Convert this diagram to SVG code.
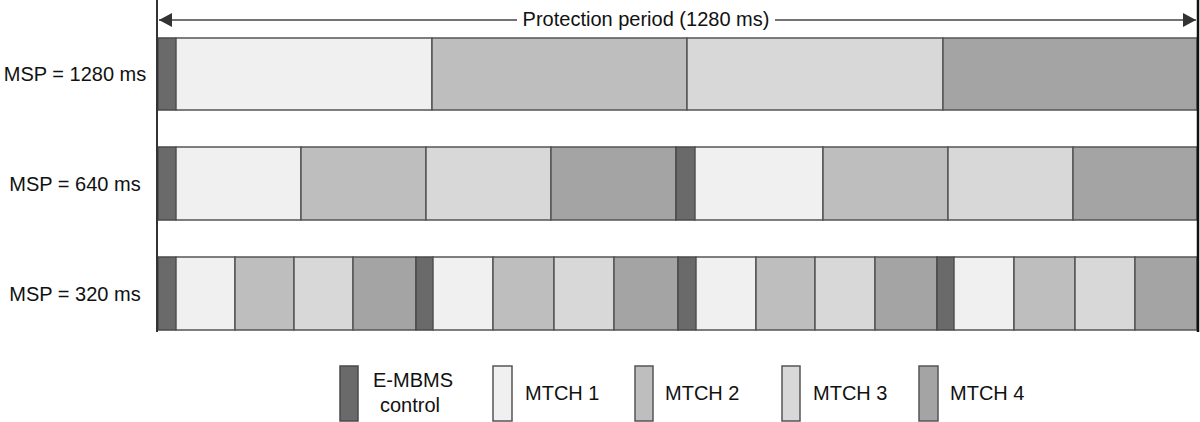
<svg xmlns="http://www.w3.org/2000/svg" width="1200" height="422" viewBox="0 0 1200 422">
<style>
text{font-family:"Liberation Sans",Arial,sans-serif;font-size:20px;fill:#111}
.c{fill:#6a6a6a;stroke:#4a4a4a;stroke-width:1.5}
.m1{fill:#f0f0f0;stroke:#555;stroke-width:1.5}
.m2{fill:#bebebe;stroke:#555;stroke-width:1.5}
.m3{fill:#d8d8d8;stroke:#555;stroke-width:1.5}
.m4{fill:#a4a4a4;stroke:#555;stroke-width:1.5}
.ln{stroke:#444;stroke-width:1.5;fill:none}
</style>
<defs>
<marker id="ah" markerWidth="14" markerHeight="14" refX="13" refY="7" orient="auto-start-reverse" markerUnits="userSpaceOnUse">
<path d="M0,0 L13,7 L0,14 Z" fill="#333"/>
</marker>
</defs>
<rect width="1200" height="422" fill="#fff"/>
<g id="connectors">
<line class="ln" x1="159" y1="20" x2="517" y2="20" marker-start="url(#ah)"/>
<line class="ln" x1="775" y1="20" x2="1196" y2="20" marker-end="url(#ah)"/>
</g>
<g id="title"><text x="646" y="26" text-anchor="middle">Protection period (1280 ms)</text></g>
<g id="row1">
<text x="75" y="81" text-anchor="middle">MSP = 1280 ms</text>
<rect class="c" x="158" y="38" width="18" height="72"/>
<rect class="m1" x="176" y="38" width="256" height="72"/>
<rect class="m2" x="432" y="38" width="255" height="72"/>
<rect class="m3" x="687" y="38" width="256" height="72"/>
<rect class="m4" x="943" y="38" width="254" height="72"/>
</g>
<g id="row2">
<text x="75" y="191" text-anchor="middle">MSP = 640 ms</text>
<rect class="c" x="158" y="147" width="18" height="73"/>
<rect class="m1" x="176" y="147" width="125" height="73"/>
<rect class="m2" x="301" y="147" width="125" height="73"/>
<rect class="m3" x="426" y="147" width="125" height="73"/>
<rect class="m4" x="551" y="147" width="125" height="73"/>
<rect class="c" x="676" y="147" width="19" height="73"/>
<rect class="m1" x="695" y="147" width="128" height="73"/>
<rect class="m2" x="823" y="147" width="125" height="73"/>
<rect class="m3" x="948" y="147" width="125" height="73"/>
<rect class="m4" x="1073" y="147" width="124" height="73"/>
</g>
<g id="row3">
<text x="75" y="301" text-anchor="middle">MSP = 320 ms</text>
<rect class="c" x="158" y="257" width="18" height="73"/>
<rect class="m1" x="176" y="257" width="59" height="73"/>
<rect class="m2" x="235" y="257" width="59" height="73"/>
<rect class="m3" x="294" y="257" width="59" height="73"/>
<rect class="m4" x="353" y="257" width="63" height="73"/>
<rect class="c" x="416" y="257" width="17" height="73"/>
<rect class="m1" x="433" y="257" width="60" height="73"/>
<rect class="m2" x="493" y="257" width="61" height="73"/>
<rect class="m3" x="554" y="257" width="60" height="73"/>
<rect class="m4" x="614" y="257" width="64" height="73"/>
<rect class="c" x="678" y="257" width="18" height="73"/>
<rect class="m1" x="696" y="257" width="60" height="73"/>
<rect class="m2" x="756" y="257" width="59" height="73"/>
<rect class="m3" x="815" y="257" width="60" height="73"/>
<rect class="m4" x="875" y="257" width="62" height="73"/>
<rect class="c" x="937" y="257" width="17" height="73"/>
<rect class="m1" x="954" y="257" width="60" height="73"/>
<rect class="m2" x="1014" y="257" width="61" height="73"/>
<rect class="m3" x="1075" y="257" width="60" height="73"/>
<rect class="m4" x="1135" y="257" width="62" height="73"/>
</g>
<g id="axes">
<line x1="157" y1="0" x2="157" y2="332" stroke="#333" stroke-width="2"/>
<line x1="1198" y1="0" x2="1198" y2="332" stroke="#111" stroke-width="2.5"/>
</g>
<g id="legend-control">
<rect class="c" x="340" y="366" width="18" height="55"/>
<text x="413" y="387" text-anchor="middle">E-MBMS</text>
<text x="410" y="412" text-anchor="middle">control</text>
</g>
<g id="legend-mtch1">
<rect class="m1" x="493" y="366" width="19" height="55"/>
<text x="525" y="400">MTCH 1</text>
</g>
<g id="legend-mtch2">
<rect class="m2" x="635" y="366" width="18" height="55"/>
<text x="665" y="400">MTCH 2</text>
</g>
<g id="legend-mtch3">
<rect class="m3" x="782" y="366" width="18" height="55"/>
<text x="813" y="400">MTCH 3</text>
</g>
<g id="legend-mtch4">
<rect class="m4" x="919" y="366" width="19" height="55"/>
<text x="950" y="400">MTCH 4</text>
</g>
</svg>
